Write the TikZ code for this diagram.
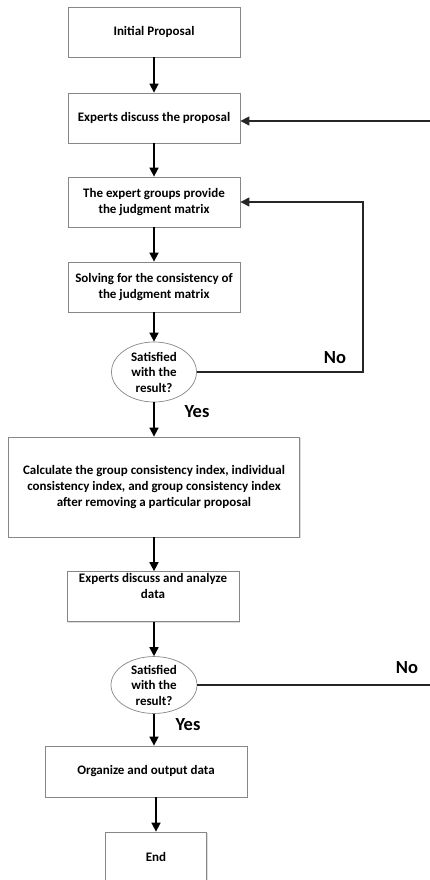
\documentclass[tikz,border=0pt]{standalone}
\usepackage{fontspec}
\setmainfont{Carlito}
\usetikzlibrary{arrows.meta,shadows,calc,shapes.geometric}
\definecolor{edgegray}{RGB}{135,135,135}
\definecolor{shadowc}{RGB}{170,180,195}
\tikzset{
  flowbox/.style={draw=edgegray, line width=0.8pt, fill=white, rectangle, align=center,
    font=\bfseries\fontsize{13}{16}\selectfont, inner sep=2pt,
    drop shadow={shadow xshift=1.3pt, shadow yshift=-1.3pt, fill=shadowc, opacity=0.45}},
  decision/.style={draw=edgegray, line width=0.7pt, fill=white, ellipse, align=center,
    font=\bfseries\fontsize{13}{15.5}\selectfont, inner sep=0pt},
  flowarrow/.style={draw=black, line width=1.6pt, -{Triangle[length=9pt,width=9pt]}},
  backline/.style={draw=black!85, line width=1.2pt},
  backarrow/.style={backline, -{Triangle[length=9pt,width=9pt]}},
  answer/.style={font=\bfseries\fontsize{18.5}{20}\selectfont, inner sep=0pt}
}
\begin{document}
\begin{tikzpicture}[x=1pt,y=-1pt]
\useasboundingbox (0,0) rectangle (430,880);
\clip (0,0) rectangle (430,880);
\fill[white] (0,0) rectangle (430,880);

\node[flowbox, minimum width=172pt, minimum height=50pt] (b1) at (154,32) {Initial Proposal};
\node[flowbox, minimum width=172pt, minimum height=50pt] (b2) at (154,118) {Experts discuss the proposal};
\node[flowbox, minimum width=172pt, minimum height=50pt] (b3) at (154,202) {The expert groups provide\\the judgment matrix};
\node[flowbox, minimum width=172pt, minimum height=50pt] (b4) at (154,287) {Solving for the consistency of\\the judgment matrix};
\node[decision, minimum width=85pt, minimum height=60pt] (d1) at (154,372) {Satisfied\\with the\\result?};
\node[flowbox, minimum width=291pt, minimum height=100pt] (b5) at (154,487) {Calculate the group consistency index, individual\\consistency index, and group consistency index\\after removing a particular proposal};
\node[flowbox, minimum width=172pt, minimum height=49pt] (b6) at (153,596.5) {Experts discuss and analyze\\data\\\strut};
\node[decision, minimum width=86pt, minimum height=54pt] (d2) at (154,685) {Satisfied\\with the\\result?};
\node[flowbox, minimum width=202pt, minimum height=51pt] (b7) at (146,771.5) {Organize and output data};
\node[flowbox, minimum width=101pt, minimum height=50pt] (b8) at (156,857) {End};

\node[answer] (no1) at (335,358) {No};
\node[answer] (yes1) at (197,412) {Yes};
\node[answer] (no2) at (407,668) {No};
\node[answer] (yes2) at (188,725) {Yes};

\coordinate (c1) at (363,300);
\coordinate (fbtop) at (430,121);
\coordinate (fbbot) at (430,684);
\coordinate (mid) at (154,0);

\draw[flowarrow] (b1) -- (b2);
\draw[flowarrow] (b2) -- (b3);
\draw[flowarrow] (b3) -- (b4);
\draw[flowarrow] (b4.south) -- (b4.south |- d1.north);
\draw[flowarrow] (d1.south) -- (d1.south |- b5.north);
\draw[flowarrow] (b5.south) -- (b5.south |- b6.north);
\draw[flowarrow] (mid |- b6.south) -- (mid |- d2.north);
\draw[flowarrow] (d2.south) -- (d2.south |- b7.north);
\draw[flowarrow] (b8.north |- b7.south) -- (b8.north);

\draw[backarrow] (d1.east) -| (c1) |- (b3.east);
\draw[backline] (d2.east) -- (d2.east -| fbbot);
\draw[backarrow] (fbtop) -- (fbtop -| b2.east);
\end{tikzpicture}
\end{document}
